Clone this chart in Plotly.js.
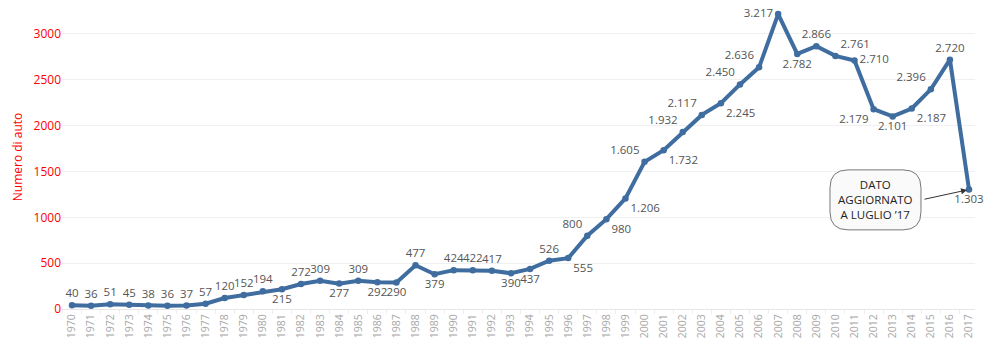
<!DOCTYPE html>
<html>
<head>
<meta charset="utf-8">
<script src="https://cdn.plot.ly/plotly-3.0.1.min.js"></script>
<style>html,body{margin:0;padding:0;background:#fff;}#chart{width:1000px;height:363px;}</style>
</head>
<body>
<div id="chart"></div>
<script>
const years = [1970,1971,1972,1973,1974,1975,1976,1977,1978,1979,1980,1981,1982,1983,1984,1985,1986,1987,1988,1989,1990,1991,1992,1993,1994,1995,1996,1997,1998,1999,2000,2001,2002,2003,2004,2005,2006,2007,2008,2009,2010,2011,2012,2013,2014,2015,2016,2017];
const cars = [40,36,51,45,38,36,37,57,120,152,194,215,272,309,277,309,292,290,477,379,424,422,417,390,437,526,555,800,980,1206,1605,1732,1932,2117,2245,2450,2636,3217,2782,2866,2761,2710,2179,2101,2187,2396,2720,1303];
const labelPos = ['top center','top center','top center','top center','top center','top center','top center','top center','top center','top center',
  'top center','bottom center','top center','top center','bottom center','top center','bottom center','bottom center','top center','bottom center',
  'top center','top center','top center','bottom center','bottom center','top center','bottom right','top left','bottom right','bottom right',
  'top left','bottom right','top left','top left','bottom right','top left','top left','middle left','bottom center','top center',
  'top right','middle right','bottom left','bottom center','bottom right','top left','top center','bottom center'];
const yTicks = [0,500,1000,1500,2000,2500,3000];
const noteText = 'DATO<br>AGGIORNATO<br>A LUGLIO ’17';

const blue = '#3f6d9f';
const trace = {
  x: years, y: cars, type: 'scatter', mode: 'lines+markers+text',
  line: {color: blue, width: 4},
  marker: {color: blue, size: 6.5},
  texttemplate: '%{y:,}',
  textposition: labelPos,
  textfont: {family: 'Open Sans, sans-serif', size: 11.5, color: '#555'},
  cliponaxis: false,
  hoverinfo: 'x+y'
};

// rounded rectangle (pixel units around an anchor)
const hw = 45.5, hh = 30, r = 18;
const rr = `M ${-hw+r} ${-hh} L ${hw-r} ${-hh} Q ${hw} ${-hh} ${hw} ${-hh+r} L ${hw} ${hh-r} Q ${hw} ${hh} ${hw-r} ${hh} L ${-hw+r} ${hh} Q ${-hw} ${hh} ${-hw} ${hh-r} L ${-hw} ${-hh+r} Q ${-hw} ${-hh} ${-hw+r} ${-hh} Z`;
const boxX = 0.891, boxY = 0.359;

const layout = {
  width: 1000, height: 363,
  margin: {l: 62, r: 25, t: 5, b: 54},
  paper_bgcolor: '#fff', plot_bgcolor: '#fff',
  separators: ',.',
  showlegend: false,
  font: {family: 'Open Sans, sans-serif'},
  xaxis: {
    range: [1969.476, 2017.314],
    tickmode: 'array', tickvals: years, ticktext: years.map(String),
    tickangle: -90,
    tickfont: {family: 'Open Sans, sans-serif', size: 10.5, color: '#a8a8a8'},
    showgrid: false, zeroline: false,
    showline: true, linecolor: '#e6e6e6', linewidth: 1,
    ticks: '',
    minor: {tickmode: 'linear', tick0: 1969.5, dtick: 1, ticks: 'outside', ticklen: 4, tickcolor: '#eeeeee', showgrid: false}
  },
  yaxis: {
    range: [0, 3316],
    tickmode: 'array', tickvals: yTicks, ticktext: yTicks.map(String),
    tickfont: {family: 'Open Sans, sans-serif', size: 12, color: '#ff0000'},
    gridcolor: '#f0f0f0', gridwidth: 1,
    zeroline: false, showline: false, ticks: '',
    title: {text: 'Numero di auto', font: {family: 'Open Sans, sans-serif', size: 12, color: '#ff0000'}, standoff: 8}
  },
  shapes: [{
    type: 'path', xref: 'paper', yref: 'paper',
    xsizemode: 'pixel', ysizemode: 'pixel', xanchor: boxX, yanchor: boxY,
    path: rr, fillcolor: '#fafafa', line: {color: '#777777', width: 1}
  }],
  annotations: [
    {xref: 'paper', yref: 'paper', x: boxX, y: boxY, text: noteText, showarrow: false,
     align: 'center', xanchor: 'center', yanchor: 'middle',
     font: {family: 'Open Sans, sans-serif', size: 11.5, color: '#222'}},
    {x: years[years.length-1], y: cars[cars.length-1], xref: 'x', yref: 'y', text: '',
     showarrow: true, arrowhead: 2, arrowsize: 1.2, arrowwidth: 1, arrowcolor: '#333',
     ax: -46, ay: 10, standoff: 2}
  ]
};

Plotly.newPlot('chart', [trace], layout, {displayModeBar: false, staticPlot: true});
</script>
</body>
</html>
